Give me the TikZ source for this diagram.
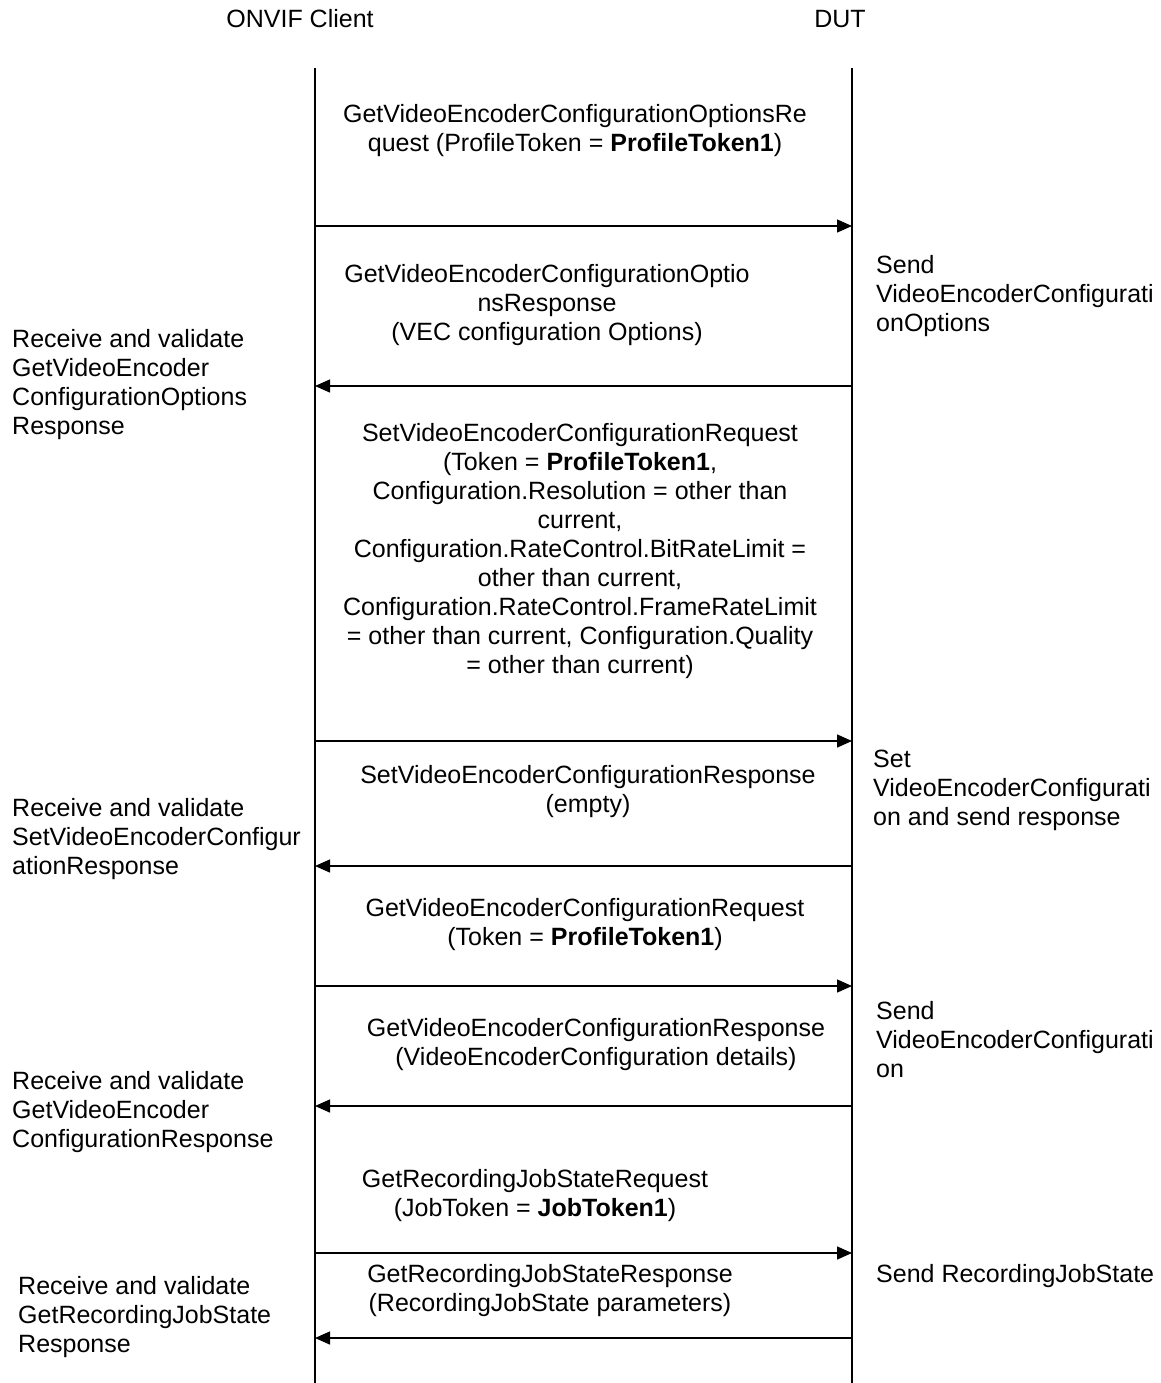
\documentclass[tikz,border=0pt]{standalone}
\usepackage{fontspec}
\setmainfont{Liberation Sans}
\usetikzlibrary{arrows.meta}
\begin{document}
\begin{tikzpicture}[x=1pt,y=-1pt,
  txt/.style={inner sep=0pt,font=\fontsize{25}{29}\selectfont},
  msg/.style={txt,align=center,anchor=center},
  note/.style={txt,align=left,anchor=west},
  life/.style={line width=1.4pt},
  arr/.style={line width=1.4pt,-{Triangle[length=15pt,width=13pt]}}]
\useasboundingbox[fill=white] (0,0) rectangle (1160,1383);
% headers
\node[msg] (hc) at (300,19) {ONVIF Client};
\node[msg] (hd) at (840,19) {DUT};
% lifelines
\coordinate (ct) at (315,68); \coordinate (cb) at (315,1383);
\coordinate (dt) at (852,68); \coordinate (db) at (852,1383);
\draw[life] (ct) -- (cb);
\draw[life] (dt) -- (db);
% arrow end points
\foreach \n/\y in {1/226,2/386,3/741,4/866,5/986,6/1106,7/1253,8/1338}{
  \coordinate (c\n) at (315,\y);
  \coordinate (d\n) at (852,\y);
}
\draw[arr] (c1) -- (d1);
\draw[arr] (d2) -- (c2);
\draw[arr] (c3) -- (d3);
\draw[arr] (d4) -- (c4);
\draw[arr] (c5) -- (d5);
\draw[arr] (d6) -- (c6);
\draw[arr] (c7) -- (d7);
\draw[arr] (d8) -- (c8);
% messages
\node[msg] (m1) at (575,131) {GetVideoEncoderConfigurationOptionsRe\\quest (ProfileToken = \textbf{ProfileToken1})};
\node[msg] (m2) at (547,305) {GetVideoEncoderConfigurationOptio\\nsResponse\\(VEC configuration Options)};
\node[msg] (m3) at (580,551) {SetVideoEncoderConfigurationRequest\\(Token = \textbf{ProfileToken1},\\Configuration.Resolution = other than\\current,\\Configuration.RateControl.BitRateLimit =\\other than current,\\Configuration.RateControl.FrameRateLimit\\= other than current, Configuration.Quality\\= other than current)};
\node[msg] (m4) at (588,792) {SetVideoEncoderConfigurationResponse\\(empty)};
\node[msg] (m5) at (585,925) {GetVideoEncoderConfigurationRequest\\(Token = \textbf{ProfileToken1})};
\node[msg] (m6) at (596,1045) {GetVideoEncoderConfigurationResponse\\(VideoEncoderConfiguration details)};
\node[msg] (m7) at (535,1196) {GetRecordingJobStateRequest\\(JobToken = \textbf{JobToken1})};
\node[msg] (m8) at (550,1291) {GetRecordingJobStateResponse\\(RecordingJobState parameters)};
% client notes
\node[note] (n1) at (12,385) {Receive and validate\\GetVideoEncoder\\ConfigurationOptions\\Response};
\node[note] (n2) at (12,839) {Receive and validate\\SetVideoEncoderConfigur\\ationResponse};
\node[note] (n3) at (12,1112) {Receive and validate\\GetVideoEncoder\\ConfigurationResponse};
\node[note] (n4) at (18,1317) {Receive and validate\\GetRecordingJobState\\Response};
% DUT notes
\node[note] (r1) at (876,296) {Send\\VideoEncoderConfigurati\\onOptions};
\node[note] (r2) at (873,790) {Set\\VideoEncoderConfigurati\\on and send response};
\node[note] (r3) at (876,1040) {Send\\VideoEncoderConfigurati\\on};
\node[note] (r4) at (876,1276) {Send RecordingJobState};
\end{tikzpicture}
\end{document}
